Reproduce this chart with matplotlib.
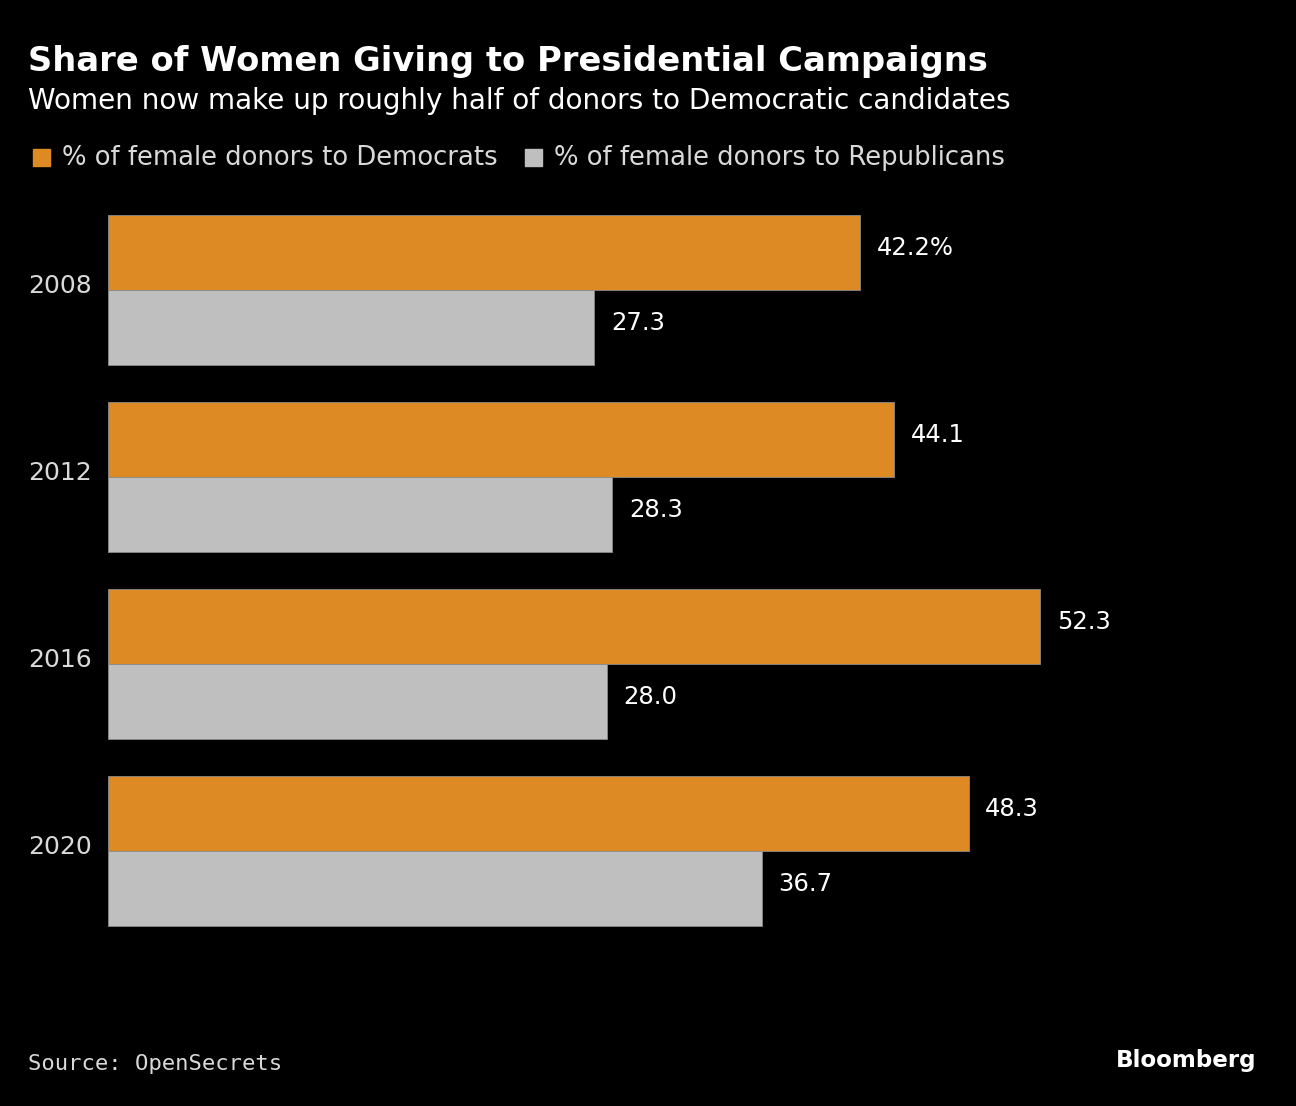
import matplotlib.pyplot as plt
from matplotlib.patches import Rectangle

# Data
years = ['2008', '2012', '2016', '2020']
dem = [42.2, 44.1, 52.3, 48.3]
rep = [27.3, 28.3, 28.0, 36.7]
dem_labels = ['42.2%', '44.1', '52.3', '48.3']
rep_labels = ['27.3', '28.3', '28.0', '36.7']

orange = '#DD8A25'
grey = '#BFBFBF'
text_grey = '#D9D9D9'

W, H = 1296, 1106
fig = plt.figure(figsize=(W / 100, H / 100), dpi=100, facecolor='black')

# Axes placed in pixel terms
left, right = 108, 1260
top, bottom = 196.5, 944.5
ax = fig.add_axes([left / W, 1 - bottom / H, (right - left) / W, (bottom - top) / H])
ax.set_facecolor('black')

px_per_unit = (860 - 108) / 42.2
ax.set_xlim(0, (right - left) / px_per_unit)
ax.set_ylim(3.5, -0.5)

pos = list(range(len(years)))
h = 0.4
ax.barh([p - h / 2 for p in pos], dem, height=h, color=orange,
        edgecolor='#8a8a8a', linewidth=0.6)
ax.barh([p + h / 2 for p in pos], rep, height=h, color=grey,
        edgecolor='#8a8a8a', linewidth=0.6)

for p, v, lab in zip(pos, dem, dem_labels):
    ax.annotate(lab, (v, p - h / 2), xytext=(12, 3), textcoords='offset points',
                va='center', ha='left', color='white', fontsize=17.5)
for p, v, lab in zip(pos, rep, rep_labels):
    ax.annotate(lab, (v, p + h / 2), xytext=(12, 3), textcoords='offset points',
                va='center', ha='left', color='white', fontsize=17.5)

# year labels
for p, yr in zip(pos, years):
    ax.annotate(yr, (0, p), xycoords=('axes fraction', 'data'), xytext=(-11.5, 3),
                textcoords='offset points', va='center', ha='right',
                color=text_grey, fontsize=18)

ax.set_yticks([])
ax.set_xticks([])
for s in ax.spines.values():
    s.set_visible(False)

# Titles
fig.text(28 / W, 1 - 62 / H, 'Share of Women Giving to Presidential Campaigns',
         color='white', fontsize=24.3, fontweight='bold', va='center', ha='left')
fig.text(28 / W, 1 - 101 / H, 'Women now make up roughly half of donors to Democratic candidates',
         color='white', fontsize=20.1, va='center', ha='left')

# Legend
fig.patches.append(Rectangle((33 / W, 1 - 166 / H), 17 / W, 17 / H,
                             transform=fig.transFigure, color=orange))
fig.text(62 / W, 1 - 158 / H, '% of female donors to Democrats',
         color=text_grey, fontsize=18.6, va='center', ha='left')
fig.patches.append(Rectangle((525 / W, 1 - 166 / H), 17 / W, 17 / H,
                             transform=fig.transFigure, color=grey))
fig.text(554 / W, 1 - 158 / H, '% of female donors to Republicans',
         color=text_grey, fontsize=18.6, va='center', ha='left')

# Footer
fig.text(28 / W, 1 - 1064 / H, 'Source: OpenSecrets', family='DejaVu Sans Mono',
         color=text_grey, fontsize=16, va='center', ha='left')
fig.text(1256 / W, 1 - 1060 / H, 'Bloomberg', color='white', fontsize=16.6,
         fontweight='bold', va='center', ha='right')

fig.savefig('out.png', dpi=100, facecolor='black')
